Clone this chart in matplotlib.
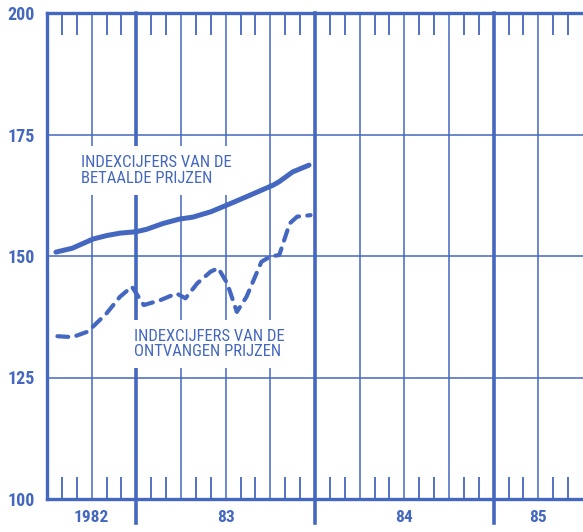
import matplotlib
matplotlib.use("Agg")
import matplotlib.pyplot as plt

# months counted from Jan 1982 (0 = start of 1982)
paid_months = [6.6, 7.7, 9.1, 10.0, 10.9, 12.0, 12.7, 13.8, 14.9, 15.8, 17.0,
               18.1, 19.4, 21.2, 21.6, 22.5, 23.6]
paid_index = [150.8, 151.6, 153.5, 154.2, 154.7, 155.0, 155.5, 156.7, 157.6,
              158.0, 159.1, 160.5, 162.2, 164.6, 165.3, 167.3, 168.7]

recv_months = [6.7, 7.7, 8.7, 9.1, 10.0, 10.9, 11.7, 12.0, 12.5, 13.6, 14.7,
               15.3, 16.1, 17.0, 17.5, 18.1, 18.75, 19.4, 20.4, 21.0, 21.6,
               22.3, 22.8, 23.7]
recv_index = [133.5, 133.3, 134.4, 135.5, 138.2, 141.6, 143.7, 142.3, 139.9,
              140.9, 142.3, 141.3, 144.4, 146.8, 147.5, 144.4, 138.5, 141.6,
              148.8, 149.9, 150.2, 156.7, 158.1, 158.4]

year_bounds = [12, 24, 36]
quarter_lines = [9, 15, 18, 21, 27, 30, 33, 39]
month_ticks = [m for m in range(7, 42) if m % 3 != 0]
year_labels = ["1982", "83", "84", "85"]
year_label_pos = [9, 18, 30, 39]
y_ticks = [100, 125, 150, 175, 200]

blue = "#4467bf"
font = ["Roboto Condensed", "DejaVu Sans"]

fig = plt.figure(figsize=(5.83, 5.32), dpi=100)
W, H = 583, 532
ax = fig.add_axes([47 / W, 33 / H, (583 - 47) / W, (499 - 13) / H])
ax.set_xlim(6, 42)
ax.set_ylim(100, 200)

for s in ["top", "left", "bottom"]:
    ax.spines[s].set_color(blue)
    ax.spines[s].set_linewidth(2.4)
ax.spines["right"].set_visible(False)

# grid
for y in y_ticks[1:-1]:
    ax.axhline(y, color=blue, lw=1.1, zorder=1)
for m in quarter_lines:
    ax.axvline(m, color=blue, lw=1.1, zorder=1)
for m in year_bounds:
    ax.axvline(m, ymin=-24 / 486, ymax=1, color=blue, lw=2.6, zorder=1,
               clip_on=False)

# month ticks top and bottom
ax.set_xticks(month_ticks, minor=True)
ax.set_xticks([])
ax.tick_params(axis="x", which="minor", direction="in", length=16, width=1.3,
               color=blue, top=True, bottom=True, labelbottom=False)

ax.set_yticks(y_ticks)
ax.set_yticklabels([str(v) for v in y_ticks], family=font, fontweight="bold",
                   fontsize=13, color=blue)
ax.tick_params(axis="y", length=0, pad=8.5)

for lab, pos in zip(year_labels, year_label_pos):
    ax.text(pos, 100 - 19 / 4.86, lab, ha="center", va="center",
            family=font, fontweight="bold", fontsize=12.5, color=blue)

ax.plot(paid_months, paid_index, color=blue, lw=3.6, solid_capstyle="round",
        solid_joinstyle="round", zorder=3)
ax.plot(recv_months, recv_index, color=blue, lw=3.0, dashes=(2.6, 2.0),
        dash_capstyle="round", zorder=3)

box = dict(boxstyle="square,pad=0.55", facecolor="white", edgecolor="none")
ax.text(8.28, 167.6, "INDEXCIJFERS VAN DE\nBETAALDE PRIJZEN", family=font,
        fontsize=12, color=blue, va="center", ha="left", linespacing=1.02,
        bbox=box, zorder=2)
ax.text(11.87, 131.9, "INDEXCIJFERS VAN DE\nONTVANGEN PRIJZEN", family=font,
        fontsize=12, color=blue, va="center", ha="left", linespacing=1.02,
        bbox=box, zorder=2)

fig.savefig("out.png", dpi=100)
